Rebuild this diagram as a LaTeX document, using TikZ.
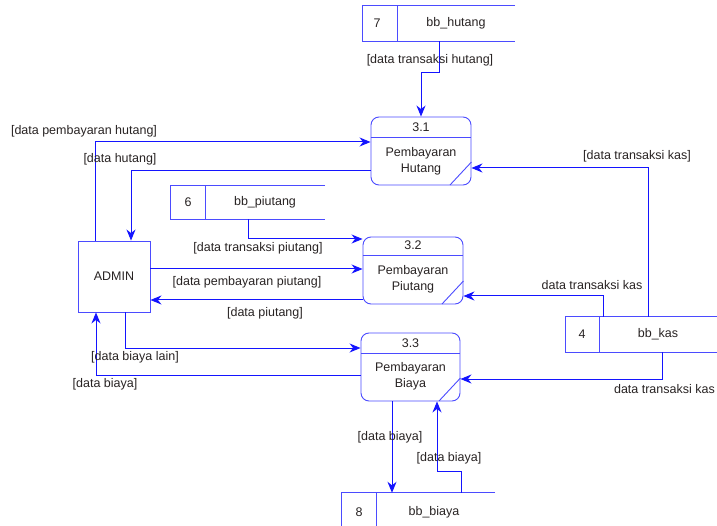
\documentclass[tikz,border=0pt]{standalone}
\usepackage{fontspec}
\setmainfont{Liberation Sans}
\usetikzlibrary{arrows.meta}
\definecolor{flowblue}{RGB}{20,20,255}
\definecolor{boxblue}{RGB}{75,75,255}
\definecolor{txt}{RGB}{40,35,35}
\tikzset{
  lbl/.style={font=\fontsize{12.5}{14}\selectfont, text=txt, inner sep=0pt},
  flow/.style={draw=flowblue, line width=1pt, -{Stealth[length=11pt,width=9pt,inset=3.5pt]}},
  procbox/.style={draw=boxblue, line width=0.9pt, rounded corners=8pt, minimum width=100pt, minimum height=68pt, inner sep=0pt},
  boxline/.style={draw=boxblue, line width=0.9pt},
  storebox/.style={minimum height=35pt, inner sep=0pt},
  extbox/.style={draw=boxblue, line width=0.9pt, minimum width=72pt, minimum height=71pt, inner sep=0pt, font=\fontsize{12.5}{14}\selectfont, text=txt}
}
\begin{document}
\begin{tikzpicture}[x=1pt,y=-1pt]
\useasboundingbox (0,0) rectangle (717,526);
% ---------- processes ----------
\node[procbox] (p31) at (421,151) {};
\draw[boxline] (p31.west |- 0,137) -- (p31.east |- 0,137);
\draw[boxline] (p31.east |- 0,162) -- (450,185);
\node[lbl] (p31id) at (421,127) {3.1};
\node[lbl, align=center, font=\fontsize{12.5}{16}\selectfont] (p31t) at (421,161) {Pembayaran\\Hutang};

\node[procbox, minimum height=67pt] (p32) at (413,270.5) {};
\draw[boxline] (p32.west |- 0,255) -- (p32.east |- 0,255);
\draw[boxline] (p32.east |- 0,281) -- (442,304);
\node[lbl] (p32id) at (413,245) {3.2};
\node[lbl, align=center, font=\fontsize{12.5}{16}\selectfont] (p32t) at (413,279) {Pembayaran\\Piutang};

\node[procbox, minimum width=99pt] (p33) at (410.5,367) {};
\draw[boxline] (p33.west |- 0,353) -- (p33.east |- 0,353);
\draw[boxline] (p33.east |- 0,378) -- (439,401);
\node[lbl] (p33id) at (410.5,343) {3.3};
\node[lbl, align=center, font=\fontsize{12.5}{16}\selectfont] (p33t) at (410.5,376) {Pembayaran\\Biaya};

% ---------- external entity ----------
\node[extbox] (admin) at (114,276.5) {ADMIN};

% ---------- data stores ----------
\node[storebox, minimum width=152pt] (s7) at (439,23.5) {};
\draw[boxline] (s7.north east) -- (s7.north west) -- (s7.south west) -- (s7.south east);
\draw[boxline] (s7.north -| 397,0) -- (s7.south -| 397,0);
\node[lbl] (s7n) at (377,23.5) {7};
\node[lbl] (s7t) at (456,23.5) {bb\_hutang};

\node[storebox, minimum width=154pt, minimum height=33pt] (s6) at (248,202.5) {};
\draw[boxline] (s6.north east) -- (s6.north west) -- (s6.south west) -- (s6.south east);
\draw[boxline] (s6.north -| 205,0) -- (s6.south -| 205,0);
\node[lbl] (s6n) at (188,202.5) {6};
\node[lbl] (s6t) at (265,202.5) {bb\_piutang};

\node[storebox, minimum width=151pt] (s4) at (641.5,334.5) {};
\draw[boxline] (s4.north east) -- (s4.north west) -- (s4.south west) -- (s4.south east) -- (s4.north east);
\draw[boxline] (s4.north -| 599,0) -- (s4.south -| 599,0);
\node[lbl] (s4n) at (582,334.5) {4};
\node[lbl] (s4t) at (658,334.5) {bb\_kas};

\node[storebox, minimum width=153pt, minimum height=37pt] (s8) at (418.5,511.5) {};
\draw[boxline] (s8.north east) -- (s8.north west) -- (s8.south west);
\draw[boxline] (s8.north -| 376,0) -- (s8.south -| 376,0);
\node[lbl] (s8n) at (359,512) {8};
\node[lbl] (s8t) at (434,512) {bb\_biaya};

% ---------- flows ----------
\draw[flow] (s7.south -| 439,0) |- (p31.north |- 0,73) -- (p31.north);
\draw[flow] (admin.north -| 95,0) |- (p31.west |- 0,142);
\draw[flow] (p31.west |- 0,171) -| (admin.north -| 131,0);
\draw[flow] (s4.north -| 648,0) |- (p31.east |- 0,168);
\draw[flow] (s6.south -| 248,0) |- (p32.west |- 0,239);
\draw[flow] (admin.east |- 0,269) -- (p32.west |- 0,269);
\draw[flow] (p32.west |- 0,300) -- (admin.east |- 0,300);
\draw[flow] (s4.north -| 603,0) |- (p32.east |- 0,296);
\draw[flow] (s4.south -| 662,0) |- (p33.east |- 0,379);
\draw[flow] (admin.south -| 125,0) |- (p33.west |- 0,348);
\draw[flow] (p33.west |- 0,375) -| (admin.south -| 96,0);
\draw[flow] (p33.south -| 392,0) -- (s8.north -| 392,0);
\draw[flow] (s8.north -| 461,0) |- (437,471) -- (p33.south -| 437,0);

% ---------- labels ----------
\node[lbl] (l1) at (430,60) {[data transaksi hutang]};
\node[lbl] (l2) at (84,131) {[data pembayaran hutang]};
\node[lbl] (l3) at (120,159) {[data hutang]};
\node[lbl] (l4) at (637,156) {[data transaksi kas]};
\node[lbl] (l5) at (258,248) {[data transaksi piutang]};
\node[lbl] (l6) at (247,282) {[data pembayaran piutang]};
\node[lbl] (l7) at (265,313) {[data piutang]};
\node[lbl] (l8) at (592,285) {data transaksi kas};
\node[lbl, anchor=east] (l9) at (715,389) {data transaksi kas};
\node[lbl] (l10) at (135,357) {[data biaya lain]};
\node[lbl] (l11) at (105,384) {[data biaya]};
\node[lbl] (l12) at (390,437) {[data biaya]};
\node[lbl] (l13) at (449,458) {[data biaya]};
\end{tikzpicture}
\end{document}
